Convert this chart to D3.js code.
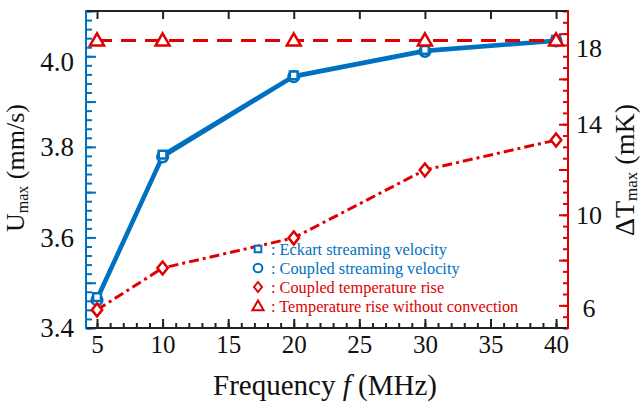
<!DOCTYPE html>
<html><head><meta charset="utf-8">
<script src="https://cdn.jsdelivr.net/npm/d3@7"></script>
</head>
<body style="margin:0;background:#fff"><svg id="c" width="642" height="408"></svg>
<script>
// ---- data ----
const freq = [5, 10, 20, 30, 40];
const eckartVel = [3.468, 3.783, 3.958, 4.014, 4.036];
const coupledVel = [3.462, 3.778, 3.955, 4.011, 4.034];
const coupledTemp = [5.8, 7.65, 8.98, 11.98, 13.3];
const noConvTemp = [17.7, 17.7, 17.7, 17.7, 17.7];
const xTicks = [5, 10, 15, 20, 25, 30, 35, 40];
const yLeftLabels = [3.4, 3.6, 3.8, 4.0];
const yRightLabels = [6, 10, 14, 18];
const legendLabels = [": Eckart streaming velocity", ": Coupled streaming velocity", ": Coupled temperature rise", ": Temperature rise without convection"];

const BLUE = "#0070c0", RED = "#e00000";
const FONT = "'Liberation Serif'";
const L = 86, R = 568, T = 11, B = 328;
const svg = d3.select("#c");
const x = d3.scaleLinear().domain([4.16, 40.91]).range([L, R]);
const yL = d3.scaleLinear().domain([3.4, 4.1]).range([B, T]);
const yR = d3.scaleLinear().domain([5, 19]).range([B, T]);

function styleAxis(g, color) {
  g.select(".domain").remove();
  g.selectAll(".tick line").attr("stroke", color).attr("stroke-width", 2);
}
// bottom
svg.append("g").attr("transform", `translate(0,${B})`)
  .call(d3.axisBottom(x).tickValues(d3.range(5, 41, 1)).tickSize(-5).tickFormat(""))
  .call(g => styleAxis(g, "#222"));
const bx = svg.append("g").attr("transform", `translate(0,${B})`)
  .call(d3.axisBottom(x).tickValues(xTicks).tickSize(-9).tickPadding(7).tickFormat(d3.format("d")))
  .call(g => styleAxis(g, "#222"));
bx.selectAll("text").attr("font-size", 25).attr("fill", "#111").style("font-family", FONT);
// top
svg.append("g").attr("transform", `translate(0,${T})`)
  .call(d3.axisTop(x).tickValues(xTicks).tickSize(-8).tickFormat(""))
  .call(g => styleAxis(g, "#222"));
// left
svg.append("g").attr("transform", `translate(${L},0)`)
  .call(d3.axisLeft(yL).tickValues(d3.range(0, 36).map(i => 3.4 + i * 0.02)).tickSize(-6).tickFormat(""))
  .call(g => styleAxis(g, BLUE));
svg.append("g").attr("transform", `translate(${L},0)`)
  .call(d3.axisLeft(yL).tickValues(d3.range(0, 8).map(i => 3.4 + i * 0.1)).tickSize(-10).tickFormat(""))
  .call(g => styleAxis(g, BLUE));
svg.append("g").selectAll("text").data(yLeftLabels).join("text")
  .attr("x", 74).attr("y", d => yL(d) + (d === 4.0 ? 5 : 0)).attr("dy", "0.35em")
  .attr("text-anchor", "end").attr("font-size", 27).attr("fill", "#111").style("font-family", FONT)
  .text(d => d3.format(".1f")(d));
// right
svg.append("g").attr("transform", `translate(${R},0)`)
  .call(d3.axisRight(yR).tickValues(d3.range(0, 29).map(i => 5 + i * 0.5)).tickSize(-5).tickFormat(""))
  .call(g => styleAxis(g, RED));
svg.append("g").attr("transform", `translate(${R},0)`)
  .call(d3.axisRight(yR).tickValues(d3.range(6, 19, 2)).tickSize(-9).tickFormat(""))
  .call(g => styleAxis(g, RED));
svg.append("g").selectAll("text").data(yRightLabels).join("text")
  .attr("x", 589).attr("y", d => yR(d) + (d === 18 ? 14 : (d === 6 ? 3 : 0))).attr("dy", "0.35em")
  .attr("text-anchor", "middle").attr("font-size", 26).attr("fill", "#111").style("font-family", FONT)
  .text(d => d);
// spines
svg.append("line").attr("x1", L).attr("x2", R).attr("y1", B).attr("y2", B).attr("stroke", "#222").attr("stroke-width", 2);
svg.append("line").attr("x1", L).attr("x2", R).attr("y1", T).attr("y2", T).attr("stroke", "#222").attr("stroke-width", 2);
svg.append("line").attr("x1", L).attr("x2", L).attr("y1", T - 1).attr("y2", B + 1).attr("stroke", BLUE).attr("stroke-width", 2);
svg.append("line").attr("x1", R).attr("x2", R).attr("y1", T - 1).attr("y2", B + 1).attr("stroke", RED).attr("stroke-width", 2);

// titles
svg.append("text").attr("x", 325).attr("y", 395).attr("text-anchor", "middle").attr("font-size", 29).attr("fill", "#111").style("font-family", FONT)
  .call(t => { t.append("tspan").text("Frequency "); t.append("tspan").attr("font-style", "italic").text("f"); t.append("tspan").text(" (MHz)"); });
svg.append("text").attr("transform", "translate(24,168) rotate(-90)").attr("text-anchor", "middle").attr("font-size", 26).attr("fill", "#111").style("font-family", FONT)
  .call(t => { t.append("tspan").text("U"); t.append("tspan").attr("font-size", 16).attr("dy", 4).text("max"); t.append("tspan").attr("dy", -4).text(" (mm/s)"); });
svg.append("text").attr("transform", "translate(634,170) rotate(-90)").attr("text-anchor", "middle").attr("font-size", 28).attr("fill", "#111").style("font-family", FONT)
  .call(t => { t.append("tspan").text("ΔT"); t.append("tspan").attr("font-size", 17).attr("dy", 3).text("max"); t.append("tspan").attr("dy", -3).text(" (mK)"); });

// series
const lineL = vals => d3.line().x((d, i) => x(freq[i])).y(d => yL(d))(vals);
const lineR = vals => d3.line().x((d, i) => x(freq[i])).y(d => yR(d))(vals);
const sym = (type, size) => d3.symbol().type(type).size(size)();
const diamond = s => `M0,${-s}L${s * 0.8},0L0,${s}L${-s * 0.8},0Z`;

svg.append("path").attr("d", lineL(coupledVel)).attr("fill", "none").attr("stroke", BLUE).attr("stroke-width", 4);
svg.append("path").attr("d", lineL(eckartVel)).attr("fill", "none").attr("stroke", BLUE).attr("stroke-width", 3);
svg.append("g").selectAll("path").data(coupledVel).join("path")
  .attr("transform", (d, i) => `translate(${x(freq[i])},${yL(d)})`)
  .attr("d", sym(d3.symbolCircle, 90)).attr("fill", "#fff").attr("stroke", BLUE).attr("stroke-width", 2.5);
svg.append("g").selectAll("path").data(eckartVel).join("path")
  .attr("transform", (d, i) => `translate(${x(freq[i])},${yL(d)})`)
  .attr("d", sym(d3.symbolSquare, 60)).attr("fill", "#fff").attr("stroke", BLUE).attr("stroke-width", 2.5);

svg.append("path").attr("d", lineR(coupledTemp)).attr("fill", "none").attr("stroke", RED).attr("stroke-width", 3).attr("stroke-dasharray", "10,4,3,4");
svg.append("g").selectAll("path").data(coupledTemp).join("path")
  .attr("transform", (d, i) => `translate(${x(freq[i])},${yR(d)})`)
  .attr("d", diamond(6.5)).attr("fill", "#fff").attr("stroke", RED).attr("stroke-width", 2.5);
svg.append("path").attr("d", lineR(noConvTemp)).attr("fill", "none").attr("stroke", RED).attr("stroke-width", 3).attr("stroke-dasharray", "15,9");
svg.append("g").selectAll("path").data(noConvTemp).join("path")
  .attr("transform", (d, i) => `translate(${x(freq[i])},${yR(d) + 1})`)
  .attr("d", sym(d3.symbolTriangle, 85)).attr("fill", "#fff").attr("stroke", RED).attr("stroke-width", 2.5);

// legend
const legY = [249, 268, 287, 306];
const legColors = [BLUE, BLUE, RED, RED];
const legShapes = [sym(d3.symbolSquare, 45), sym(d3.symbolCircle, 60), diamond(5), sym(d3.symbolTriangle, 55)];
const lg = svg.append("g");
legendLabels.forEach((lab, i) => {
  lg.append("path").attr("transform", `translate(258,${legY[i] + (i === 3 ? 1 : 0)})`).attr("d", legShapes[i])
    .attr("fill", "#fff").attr("stroke", legColors[i]).attr("stroke-width", 2);
  lg.append("text").attr("x", 271).attr("y", legY[i]).attr("dy", "0.35em").attr("font-size", 16.3)
    .attr("fill", legColors[i]).style("font-family", FONT).text(lab);
});
</script></body></html>
